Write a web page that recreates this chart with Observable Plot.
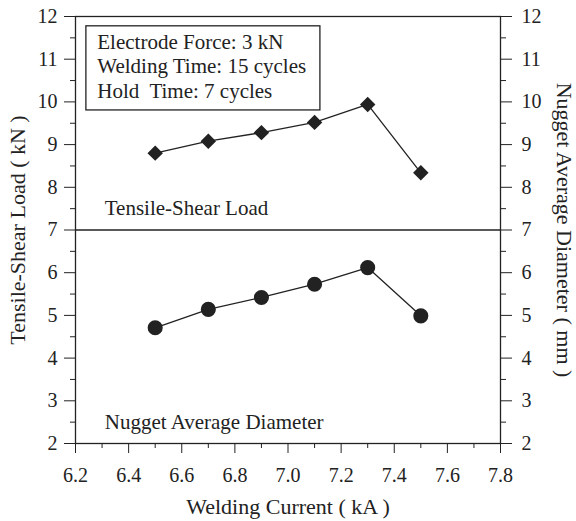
<!DOCTYPE html>
<html>
<head>
<meta charset="utf-8">
<script src="https://cdn.jsdelivr.net/npm/d3@7"></script>
<script src="https://cdn.jsdelivr.net/npm/@observablehq/plot@0.6"></script>
<style>
  body { margin: 0; background: #fff; }
  #chart svg { display: block; }
</style>
</head>
<body>
<div id="chart"></div>
<script>
// Data
const current = [6.5, 6.7, 6.9, 7.1, 7.3, 7.5];            // kA
const tensileLoad = [8.80, 9.08, 9.28, 9.52, 9.94, 8.34];   // kN
const nuggetDiameter = [4.71, 5.14, 5.42, 5.73, 6.12, 4.99]; // mm

const xMajorTicks = [6.2, 6.4, 6.6, 6.8, 7.0, 7.2, 7.4, 7.6, 7.8];
const xMinorTicks = [6.3, 6.5, 6.7, 6.9, 7.1, 7.3, 7.5, 7.7];
const yMajorTicks = [2, 3, 4, 5, 6, 7, 8, 9, 10, 11, 12];
const yMinorTicks = [2.5, 3.5, 4.5, 5.5, 6.5, 7.5, 8.5, 9.5, 10.5, 11.5];

const conditions = ["Electrode Force: 3 kN", "Welding Time: 15 cycles", "Hold  Time: 7 cycles"];
const conditionY = [11.40, 10.83, 10.25];
const conditionBox = [{x1: 6.241, x2: 7.122, y1: 9.80, y2: 11.77}];
const seriesLabels = [
  {x: 6.31, y: 7.5, text: "Tensile-Shear Load"},
  {x: 6.31, y: 2.49, text: "Nugget Average Diameter"}
];

const xTitle = "Welding Current ( kA )";
const yLeftTitle = "Tensile-Shear Load ( kN )";
const yRightTitle = "Nugget Average Diameter ( mm )";

const ink = "#222";
const font = "'Liberation Serif', 'Times New Roman', serif";

const loadData = current.map((x, i) => ({x, y: tensileLoad[i]}));
const diaData = current.map((x, i) => ({x, y: nuggetDiameter[i]}));
const condData = conditions.map((t, i) => ({x: 6.282, y: conditionY[i], text: t}));

const chart = Plot.plot({
  width: 576,
  height: 521,
  marginLeft: 75,
  marginRight: 76,
  marginTop: 16,
  marginBottom: 78,
  style: {fontFamily: font, fontSize: "20px", color: ink, background: "#fff"},
  x: {domain: [6.2, 7.8]},
  y: {domain: [2, 12]},
  marks: [
    Plot.frame({stroke: ink, strokeWidth: 1.3}),
    Plot.ruleY([7], {stroke: ink, strokeWidth: 1.3}),
    // x axis
    Plot.axisX({ticks: xMajorTicks, tickSize: 10, tickPadding: 14, tickFormat: d => d.toFixed(1), fontSize: 20, stroke: ink, fill: ink, label: null}),
    Plot.axisX({ticks: xMinorTicks, tickSize: 5, tickFormat: () => "", stroke: ink, label: null}),
    // left y
    Plot.axisY({anchor: "left", ticks: yMajorTicks, tickSize: 11, tickPadding: 7, fontSize: 20, stroke: ink, fill: ink, label: null}),
    Plot.axisY({anchor: "left", ticks: yMinorTicks, tickSize: 5, tickFormat: () => "", stroke: ink, label: null}),
    // right y
    Plot.axisY({anchor: "right", ticks: yMajorTicks, tickSize: 11, tickPadding: 10, fontSize: 20, stroke: ink, fill: ink, label: null}),
    Plot.axisY({anchor: "right", ticks: yMinorTicks, tickSize: 5, tickFormat: () => "", stroke: ink, label: null}),
    // conditions box
    Plot.rect(conditionBox, {x1: "x1", x2: "x2", y1: "y1", y2: "y2", fill: "none", stroke: ink, strokeWidth: 1.3}),
    Plot.text(condData, {x: "x", y: "y", text: "text", textAnchor: "start", fontSize: 21, fill: ink}),
    Plot.text(seriesLabels, {x: "x", y: "y", text: "text", textAnchor: "start", fontSize: 21, fill: ink}),
    // series
    Plot.line(loadData, {x: "x", y: "y", stroke: ink, strokeWidth: 1.3}),
    Plot.dot(loadData, {x: "x", y: "y", symbol: "diamond2", r: 6, fill: ink, stroke: ink}),
    Plot.line(diaData, {x: "x", y: "y", stroke: ink, strokeWidth: 1.3}),
    Plot.dot(diaData, {x: "x", y: "y", symbol: "circle", r: 6.8, fill: ink, stroke: ink}),
    // titles
    Plot.text([xTitle], {frameAnchor: "bottom", textAnchor: "middle", lineAnchor: "middle", dy: 63, fontSize: 22, fill: ink}),
    Plot.text([yLeftTitle], {frameAnchor: "left", textAnchor: "middle", lineAnchor: "middle", dx: -58, rotate: -90, fontSize: 22, fill: ink}),
    Plot.text([yRightTitle], {frameAnchor: "right", textAnchor: "middle", lineAnchor: "middle", dx: 64, rotate: 90, fontSize: 22, fill: ink})
  ]
});

document.getElementById("chart").appendChild(chart);
</script>
</body>
</html>
